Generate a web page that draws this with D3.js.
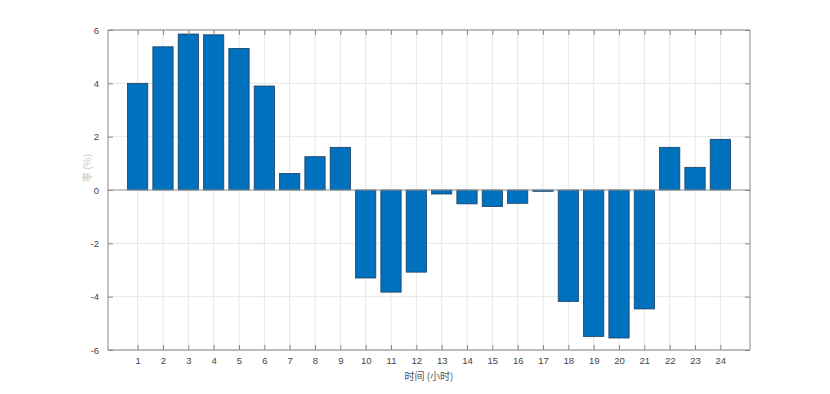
<!DOCTYPE html>
<html><head><meta charset="utf-8">
<script src="https://cdn.jsdelivr.net/npm/d3@7"></script>
<style>body{margin:0;background:#fff}svg{display:block}</style>
</head><body><svg id="c" width="830" height="394"></svg>
<script>
const hours = [1,2,3,4,5,6,7,8,9,10,11,12,13,14,15,16,17,18,19,20,21,22,23,24];
const values = [4.0,5.37,5.85,5.82,5.31,3.9,0.62,1.25,1.6,-3.3,-3.83,-3.08,-0.15,-0.52,-0.62,-0.5,-0.05,-4.18,-5.49,-5.55,-4.46,1.6,0.85,1.9];
const yTicks = [-6,-4,-2,0,2,4,6];
const xLabel = "时间 (小时)";
const yLabel = "率 (%)";

const svg = d3.select("#c");
const L=108, R=750, T=30, B=350;
const x = d3.scaleLinear().domain([-0.17,25.17]).range([L,R]);
const y = d3.scaleLinear().domain([-6,6]).range([B,T]);
const font = "Liberation Sans, Arial, sans-serif";

// grid
svg.append("g").selectAll("line").data(hours).join("line")
  .attr("x1",d=>x(d)).attr("x2",d=>x(d)).attr("y1",T).attr("y2",B)
  .attr("stroke","#e6e6e6").attr("stroke-width",1);
svg.append("g").selectAll("line").data(yTicks).join("line")
  .attr("x1",L).attr("x2",R).attr("y1",d=>y(d)).attr("y2",d=>y(d))
  .attr("stroke","#e6e6e6").attr("stroke-width",1);

// bars
const bw = 0.8;
svg.append("g").selectAll("rect").data(hours).join("rect")
  .attr("x",(d)=>x(d-bw/2)).attr("width",x(bw)-x(0))
  .attr("y",(d,i)=>y(Math.max(0,values[i])))
  .attr("height",(d,i)=>Math.abs(y(values[i])-y(0)))
  .attr("fill","#0072BD").attr("stroke","#1a3f66").attr("stroke-width",0.8);

// zero baseline
svg.append("line").attr("x1",L).attr("x2",R).attr("y1",y(0)).attr("y2",y(0))
  .attr("stroke","#9a9a9a").attr("stroke-width",1);

// axes (box)
const fmt = d => String(d);
const axB = d3.axisBottom(x).tickValues(hours).tickSize(-5).tickPadding(7).tickFormat(fmt);
const axT = d3.axisTop(x).tickValues(hours).tickSize(-5).tickFormat("");
const axLft = d3.axisLeft(y).tickValues(yTicks).tickSize(-5).tickPadding(9).tickFormat(fmt);
const axRt = d3.axisRight(y).tickValues(yTicks).tickSize(-5).tickFormat("");
function style(g){
  g.selectAll("path.domain").attr("stroke","#888").attr("stroke-width",1);
  g.selectAll(".tick line").attr("stroke","#888");
  g.selectAll("text").attr("fill","#444").attr("font-size","9.5px").attr("font-family",font);
}
svg.append("g").attr("transform",`translate(0,${B})`).call(axB).call(style).call(g=>g.select("path.domain").attr("d",`M${L},0H${R}`));
svg.append("g").attr("transform",`translate(0,${T})`).call(axT).call(style).call(g=>g.select("path.domain").attr("d",`M${L},0H${R}`));
svg.append("g").attr("transform",`translate(${L},0)`).call(axLft).call(style).call(g=>g.select("path.domain").attr("d",`M0,${T}V${B}`));
svg.append("g").attr("transform",`translate(${R},0)`).call(axRt).call(style).call(g=>g.select("path.domain").attr("d",`M0,${T}V${B}`));

// labels
svg.append("text").attr("x",(L+R)/2).attr("y",380).attr("text-anchor","middle")
  .attr("font-size","10px").attr("fill","#555").attr("font-family","Noto Sans CJK SC, sans-serif").text(xLabel);
svg.append("text").attr("transform",`translate(91,${(T+B)/2 - 22}) rotate(-90)`).attr("text-anchor","middle")
  .attr("font-size","10px").attr("fill","#c8c8c8").attr("font-family","Noto Sans CJK SC, sans-serif").text(yLabel);
</script></body></html>
